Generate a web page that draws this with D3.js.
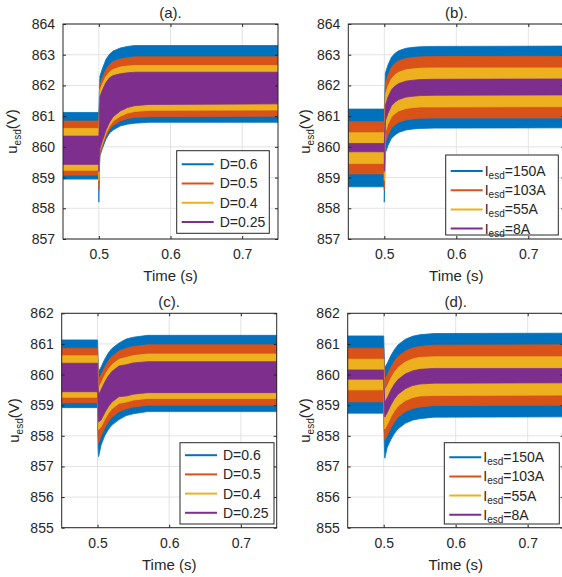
<!DOCTYPE html>
<html>
<head>
<meta charset="utf-8">
<script src="https://cdn.jsdelivr.net/npm/d3@7"></script>
<style>
  body { margin: 0; background: #fff; }
  text { font-family: "Liberation Sans", Arial, sans-serif; fill: #262626; }
</style>
</head>
<body>
<div id="chart"></div>
<script>
// time grid (s) shared by every band
var time = [0.45, 0.4999, 0.5, 0.5008, 0.5015, 0.505, 0.51, 0.515, 0.52, 0.53, 0.54, 0.55, 0.57, 0.75];

var colors = ["#0072BD", "#D95319", "#EDB120", "#7E2F8E"];
var labelsD = ["D=0.6", "D=0.5", "D=0.4", "D=0.25"];
var labelsI = ["150A", "103A", "55A", "8A"];
var xTicks = [0.5, 0.6, 0.7];
var yTicksTop = [857, 858, 859, 860, 861, 862, 863, 864];
var yTicksBottom = [855, 856, 857, 858, 859, 860, 861, 862];

// panel (a): upper / lower envelope per series (blue, orange, yellow, purple)
var aUpper = [
  [861.12, 861.12, 861.1, 861.8, 862.3, 862.55, 862.85, 863.02, 863.12, 863.22, 863.27, 863.3, 863.3, 863.3],
  [860.84, 860.84, 860.8, 861.4, 862.0, 862.25, 862.52, 862.68, 862.78, 862.86, 862.9, 862.93, 862.93, 862.93],
  [860.6, 860.6, 860.55, 861.2, 861.85, 862.05, 862.3, 862.44, 862.52, 862.6, 862.63, 862.65, 862.65, 862.65],
  [860.35, 860.35, 860.3, 861.0, 861.63, 861.85, 862.1, 862.25, 862.32, 862.38, 862.41, 862.43, 862.43, 862.43]
];
var aLower = [
  [858.95, 858.95, 858.2, 859.3, 859.7, 859.95, 860.25, 860.45, 860.55, 860.68, 860.74, 860.77, 860.8, 860.8],
  [859.08, 859.08, 858.6, 859.4, 859.79, 860.03, 860.35, 860.57, 860.7, 860.84, 860.92, 860.96, 860.98, 861.0],
  [859.24, 859.24, 858.9, 859.5, 859.87, 860.1, 860.45, 860.68, 860.84, 861.0, 861.1, 861.15, 861.19, 861.2],
  [859.43, 859.43, 859.2, 859.6, 859.95, 860.2, 860.55, 860.8, 860.98, 861.17, 861.28, 861.34, 861.38, 861.4]
];

// panel (b)
var bUpper = [
  [861.23, 861.23, 861.2, 861.8, 862.4, 862.66, 862.92, 863.05, 863.13, 863.21, 863.24, 863.26, 863.27, 863.28],
  [860.82, 860.82, 860.8, 861.4, 862.05, 862.32, 862.59, 862.72, 862.8, 862.88, 862.91, 862.93, 862.94, 862.95],
  [860.46, 860.46, 860.45, 861.0, 861.7, 861.97, 862.22, 862.35, 862.43, 862.51, 862.54, 862.56, 862.57, 862.57],
  [860.11, 860.11, 860.1, 860.7, 861.35, 861.61, 861.86, 861.98, 862.06, 862.14, 862.17, 862.19, 862.2, 862.21]
];
var bLower = [
  [858.7, 858.7, 858.2, 859.2, 859.8, 860.04, 860.28, 860.39, 860.47, 860.55, 860.58, 860.6, 860.61, 860.62],
  [859.12, 859.12, 858.6, 859.5, 860.15, 860.38, 860.61, 860.72, 860.8, 860.88, 860.91, 860.93, 860.94, 860.94],
  [859.46, 859.46, 858.9, 859.8, 860.5, 860.73, 860.98, 861.09, 861.17, 861.25, 861.28, 861.3, 861.3, 861.31],
  [859.84, 859.84, 859.2, 860.2, 860.85, 861.09, 861.34, 861.46, 861.54, 861.62, 861.65, 861.67, 861.68, 861.69]
];

// panel (c)
var cUpper = [
  [861.13, 861.13, 861.1, 860.45, 860.1, 860.25, 860.5, 860.7, 860.85, 861.03, 861.16, 861.22, 861.28, 861.28],
  [860.86, 860.86, 860.85, 860.2, 859.84, 859.99, 860.24, 860.44, 860.59, 860.77, 860.86, 860.92, 860.97, 860.97],
  [860.61, 860.61, 860.6, 859.9, 859.57, 859.72, 859.97, 860.17, 860.32, 860.5, 860.56, 860.62, 860.67, 860.67],
  [860.37, 860.37, 860.35, 859.7, 859.35, 859.5, 859.75, 859.95, 860.1, 860.28, 860.32, 860.38, 860.42, 860.42]
];
var cLower = [
  [858.92, 858.92, 858.9, 857.6, 857.32, 857.7, 858.0, 858.2, 858.35, 858.53, 858.66, 858.72, 858.79, 858.79],
  [859.08, 859.08, 859.05, 858.1, 857.76, 858.0, 858.26, 858.46, 858.61, 858.79, 858.88, 858.94, 859.0, 859.0],
  [859.26, 859.26, 859.25, 858.5, 858.2, 858.3, 858.53, 858.73, 858.88, 859.06, 859.1, 859.17, 859.22, 859.22],
  [859.44, 859.44, 859.45, 858.7, 858.45, 858.52, 858.75, 858.95, 859.1, 859.28, 859.3, 859.36, 859.41, 859.41]
];

// panel (d)
var dUpper = [
  [861.26, 861.26, 861.25, 860.55, 860.22, 860.37, 860.62, 860.82, 860.97, 861.15, 861.25, 861.3, 861.34, 861.35],
  [860.86, 860.86, 860.85, 860.2, 859.84, 859.99, 860.24, 860.44, 860.59, 860.77, 860.87, 860.92, 860.96, 860.97],
  [860.5, 860.5, 860.5, 859.82, 859.48, 859.63, 859.88, 860.08, 860.23, 860.41, 860.51, 860.56, 860.58, 860.58],
  [860.15, 860.15, 860.15, 859.44, 859.09, 859.24, 859.49, 859.69, 859.84, 860.02, 860.12, 860.17, 860.2, 860.2]
];
var dLower = [
  [858.74, 858.74, 858.74, 857.85, 857.27, 857.63, 857.88, 858.08, 858.23, 858.41, 858.51, 858.56, 858.61, 858.62],
  [859.11, 859.11, 859.11, 858.2, 857.86, 858.01, 858.26, 858.46, 858.61, 858.79, 858.89, 858.94, 858.99, 859.0],
  [859.5, 859.5, 859.5, 858.58, 858.22, 858.37, 858.62, 858.82, 858.97, 859.15, 859.25, 859.3, 859.32, 859.33],
  [859.85, 859.85, 859.85, 858.96, 858.61, 858.76, 859.01, 859.21, 859.36, 859.54, 859.64, 859.69, 859.72, 859.73]
];

var panels = [
  {id: "a", title: "(a).", left: 63, top: 24, w: 215, h: 215, yDom: [857, 864], yTicks: yTicksTop,
   upper: aUpper, lower: aLower, labels: labelsD, sub: false, ylabX: -51,
   leg: {x: 113.7, y: 126.7, w: 92.6, h: 82.6, first: 13.5, step: 19.3}},
  {id: "b", title: "(b).", left: 348.3, top: 24, w: 216, h: 215, yDom: [857, 864], yTicks: yTicksTop,
   upper: bUpper, lower: bLower, labels: labelsI, sub: true, ylabX: -43,
   leg: {x: 97.4, y: 131, w: 112.6, h: 80, first: 16, step: 19.2}},
  {id: "c", title: "(c).", left: 61.7, top: 313.3, w: 215, h: 214.4, yDom: [855, 862], yTicks: yTicksBottom,
   upper: cUpper, lower: cLower, labels: labelsD, sub: false, ylabX: -48,
   leg: {x: 118.3, y: 129.4, w: 94, h: 81.3, first: 12.5, step: 19.2}},
  {id: "d", title: "(d).", left: 347.7, top: 313.3, w: 216, h: 214.4, yDom: [855, 862], yTicks: yTicksBottom,
   upper: dUpper, lower: dLower, labels: labelsI, sub: true, ylabX: -43,
   leg: {x: 96.6, y: 129.4, w: 115, h: 81.3, first: 14.5, step: 19.2}}
];

var svg = d3.select("#chart").append("svg")
  .attr("width", 562)
  .attr("height", 577);

panels.forEach(function(p) {
  var g = svg.append("g").attr("transform", `translate(${p.left}, ${p.top})`);
  var x = d3.scaleLinear().domain([0.45, 0.75]).range([0, p.w]);
  var y = d3.scaleLinear().domain(p.yDom).range([p.h, 0]);

  g.append("clipPath").attr("id", "clip-" + p.id)
    .append("rect").attr("width", p.w).attr("height", p.h);

  // grid
  g.append("g").attr("class", "grid")
    .selectAll("line.gx").data(xTicks).enter().append("line")
    .attr("x1", d => x(d)).attr("x2", d => x(d))
    .attr("y1", 0).attr("y2", p.h)
    .attr("stroke", "#e3e3e3").attr("stroke-width", 1);
  g.append("g").attr("class", "grid")
    .selectAll("line.gy").data(p.yTicks).enter().append("line")
    .attr("x1", 0).attr("x2", p.w)
    .attr("y1", d => y(d)).attr("y2", d => y(d))
    .attr("stroke", "#e3e3e3").attr("stroke-width", 1);

  // bands, outermost first
  var area = d3.area()
    .x((d, i) => x(time[i]))
    .y0(d => y(d[0]))
    .y1(d => y(d[1]));
  var bands = p.upper.map(function(up, k) {
    return up.map((v, i) => [p.lower[k][i], v]);
  });
  g.append("g").attr("clip-path", `url(#clip-${p.id})`)
    .selectAll("path").data(bands).enter().append("path")
    .attr("d", area)
    .attr("fill", (d, k) => colors[k])
    .attr("stroke", (d, k) => colors[k])
    .attr("stroke-width", 0.8);

  // axes (ticks inward, box)
  var bottomAxis = d3.axisBottom(x).tickValues(xTicks).tickSize(-3).tickPadding(10).tickFormat(d3.format(".1f"));
  var leftAxis = d3.axisLeft(y).tickValues(p.yTicks).tickSize(-3).tickPadding(8).tickFormat(d3.format("d"));
  var xa = g.append("g").attr("transform", `translate(0, ${p.h})`).call(bottomAxis);
  var ya = g.append("g").call(leftAxis);
  g.append("g").call(d3.axisTop(x).tickValues(xTicks).tickSize(-3).tickFormat(""));
  g.append("g").attr("transform", `translate(${p.w}, 0)`)
    .call(d3.axisRight(y).tickValues(p.yTicks).tickSize(-3).tickFormat(""));
  g.selectAll(".domain").remove();
  g.selectAll(".tick line").attr("stroke", "#262626");
  [xa, ya].forEach(a => a.selectAll("text")
    .style("font-size", "14px").style("fill", "#262626")
    .style("font-family", "'Liberation Sans', Arial, sans-serif"));
  g.append("rect").attr("width", p.w).attr("height", p.h)
    .attr("fill", "none").attr("stroke", "#262626").attr("stroke-width", 1);

  // titles and axis labels
  g.append("text").attr("x", p.w / 2).attr("y", -6)
    .attr("text-anchor", "middle").style("font-size", "15px").text(p.title);
  g.append("text").attr("x", p.w / 2).attr("y", p.h + 42)
    .attr("text-anchor", "middle").style("font-size", "15px").text("Time (s)");
  var yl = g.append("text")
    .attr("transform", `translate(${p.ylabX + 5}, ${p.h / 2}) rotate(-90)`)
    .attr("text-anchor", "middle").style("font-size", "15px");
  yl.append("tspan").text("u");
  yl.append("tspan").attr("dy", 4).style("font-size", "10px").text("esd");
  yl.append("tspan").attr("dy", -4).text("(V)");

  // legend
  var L = p.leg;
  var lg = g.append("g").attr("transform", `translate(${L.x}, ${L.y})`);
  lg.append("rect").attr("width", L.w).attr("height", L.h)
    .attr("fill", "#fff").attr("stroke", "#262626").attr("stroke-width", 1);
  p.labels.forEach(function(lab, k) {
    var yy = L.first + k * L.step;
    lg.append("line").attr("x1", 5).attr("x2", 37).attr("y1", yy).attr("y2", yy)
      .attr("stroke", colors[k]).attr("stroke-width", 2);
    var t = lg.append("text").attr("x", p.sub ? 39 : 43).attr("y", yy + 5).style("font-size", "14px");
    if (p.sub) {
      t.append("tspan").text("I");
      t.append("tspan").attr("dy", 3).style("font-size", "10px").text("esd");
      t.append("tspan").attr("dy", -3).text("=" + lab);
    } else {
      t.text(lab);
    }
  });
});
</script>
</body>
</html>
